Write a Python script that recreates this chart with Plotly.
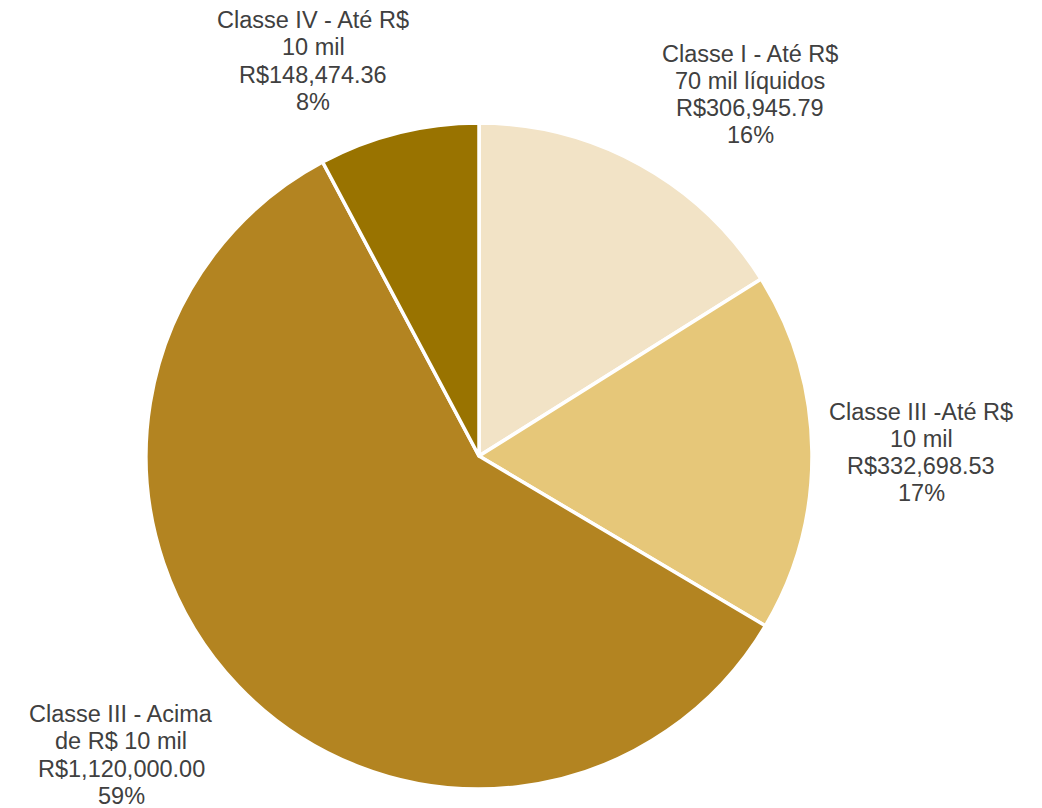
import plotly.graph_objects as go

# Categories (line breaks as displayed), values in R$
categories = [
    "Classe I - Até R$<br>70 mil líquidos",
    "Classe III -Até R$<br>10 mil",
    "Classe III - Acima<br>de R$ 10 mil",
    "Classe IV - Até R$<br>10 mil",
]
values = [306945.79, 332698.53, 1120000.00, 148474.36]
colors = ["#F2E3C6", "#E6C779", "#B38421", "#997300"]

# Centre of each label block (pixels in the 1042x808 page)
label_px = [(750, 94.5), (921, 452.5), (121, 755), (313, 61)]
LINE_PX = 27.3
FONT = dict(family="Liberation Sans, Arial, sans-serif", size=23.5, color="#404040")

W, H = 1042, 808
total = sum(values)

fig = go.Figure(
    go.Pie(
        labels=categories,
        values=values,
        sort=False,
        direction="clockwise",
        rotation=0,
        marker=dict(colors=colors, line=dict(color="white", width=3.5)),
        textinfo="none",
        hoverinfo="label+value+percent",
        showlegend=False,
        domain=dict(x=[146 / W, 812 / W], y=[1 - 789 / H, 1 - 123 / H]),
    )
)

# Data labels: category, value and percentage, one annotation per line
for cat, val, (px, py) in zip(categories, values, label_px):
    pct = round(val / total * 100)
    lines = cat.split("<br>") + [f"R${val:,.2f}", f"{pct}%"]
    n = len(lines)
    for i, line in enumerate(lines):
        ly = py + (i - (n - 1) / 2) * LINE_PX
        fig.add_annotation(
            x=px / W,
            y=1 - ly / H,
            xref="paper",
            yref="paper",
            xanchor="center",
            yanchor="middle",
            showarrow=False,
            text=line,
            font=FONT,
        )

fig.update_layout(
    width=W,
    height=H,
    margin=dict(l=0, r=0, t=0, b=0),
    paper_bgcolor="white",
    plot_bgcolor="white",
)

fig.write_html("out.html")
